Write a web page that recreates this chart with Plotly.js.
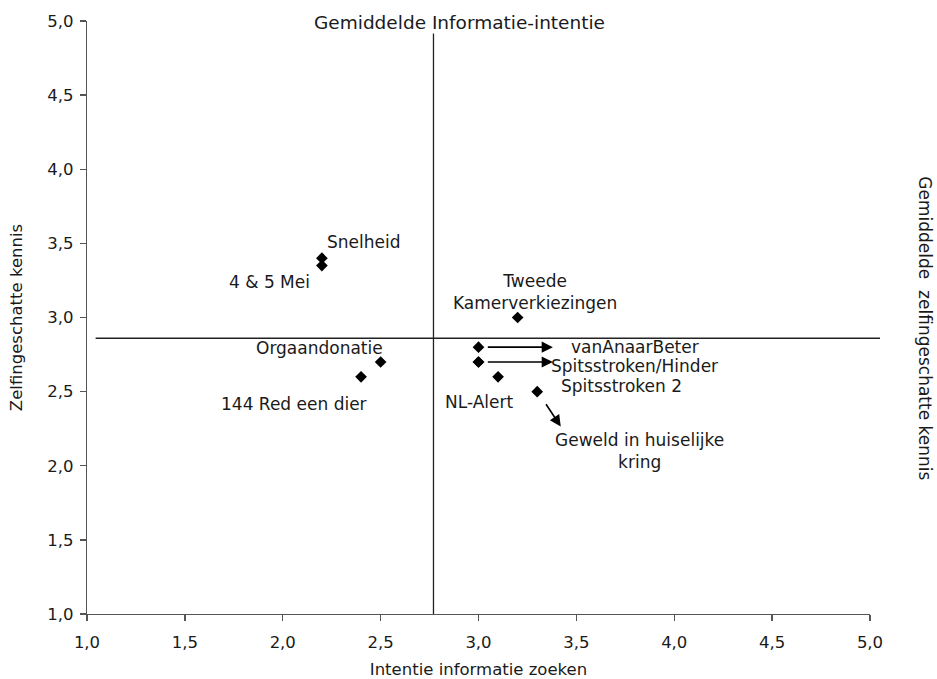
<!DOCTYPE html>
<html>
<head>
<meta charset="utf-8">
<script src="https://cdn.plot.ly/plotly-3.0.1.min.js"></script>
<style>
html,body{margin:0;padding:0;background:#fff;}
#chart{width:937px;height:679px;}
</style>
</head>
<body>
<div id="chart"></div>
<script>
// ---- data ----
const labels = ['Snelheid', '4 & 5 Mei', 'Tweede<br>Kamerverkiezingen', 'Orgaandonatie', '144 Red een dier',
                'vanAnaarBeter', 'Spitsstroken/Hinder', 'Spitsstroken 2', 'NL-Alert', 'Geweld in huiselijke<br>kring'];
const intentie = [2.2, 2.2, 3.2, 2.5, 2.4, 3.0, 3.0, 3.0, 3.1, 3.3];
const kennis   = [3.4, 3.35, 3.0, 2.7, 2.6, 2.8, 2.7, 2.7, 2.6, 2.5];
const meanIntentie = 2.77;
const meanKennis = 2.86;
const tickVals = [1.0, 1.5, 2.0, 2.5, 3.0, 3.5, 4.0, 4.5, 5.0];
const tickText = ['1,0', '1,5', '2,0', '2,5', '3,0', '3,5', '4,0', '4,5', '5,0'];

// ---- label placement (pixel offsets from each point) ----
const labelShift = [
  [42, 16], [-52, -16], [17, 26], [-61, 14], [-67, -27],
  [156, 0], [156, -4], [143, -24], [-19, -25], [102, -59]
];
const arrowFrom = [5, 6, 9];

const FONT = 'DejaVu Sans, Verdana, sans-serif';
const TXT = '#1a1a1a';

const trace = {
  type: 'scatter', mode: 'markers',
  x: intentie, y: kennis,
  marker: {symbol: 'diamond', size: 9, color: '#000'},
  hoverinfo: 'skip', showlegend: false
};

const annotations = labels.map((t, i) => ({
  x: intentie[i], y: kennis[i], xref: 'x', yref: 'y',
  text: t, showarrow: false, xanchor: 'center', yanchor: 'middle',
  xshift: labelShift[i][0], yshift: labelShift[i][1], borderpad: 0,
  font: {family: FONT, size: 17, color: TXT}
}));

// arrows pointing to the labels
const arrowEnds = {5: [3.38, 2.8], 6: [3.38, 2.7], 9: [3.42, 2.265]};
const arrowStarts = {5: [3.04, 2.8], 6: [3.04, 2.7], 9: [3.34, 2.425]};
arrowFrom.forEach(i => {
  annotations.push({
    xref: 'x', yref: 'y', axref: 'x', ayref: 'y',
    x: arrowEnds[i][0], y: arrowEnds[i][1],
    ax: arrowStarts[i][0], ay: arrowStarts[i][1],
    text: '', showarrow: true, arrowhead: 2, arrowsize: 1.4, arrowwidth: 1.6, arrowcolor: '#000'
  });
});

// top title at vertical mean line
annotations.push({
  x: meanIntentie, xref: 'x', y: 1, yref: 'paper',
  xanchor: 'center', yanchor: 'middle', xshift: 26, yshift: -1,
  text: 'Gemiddelde Informatie-intentie', showarrow: false,
  font: {family: FONT, size: 18.5, color: TXT}
});
// right title for horizontal mean line
annotations.push({
  x: 1.07, xref: 'paper', y: 0.482, yref: 'paper',
  xanchor: 'center', yanchor: 'middle', textangle: 90,
  text: 'Gemiddelde&nbsp;&nbsp;zelfingeschatte kennis', showarrow: false,
  font: {family: FONT, size: 17, color: TXT}
});

const layout = {
  width: 937, height: 679,
  margin: {l: 87.3, r: 67, t: 20.7, b: 65.3},
  paper_bgcolor: '#fff', plot_bgcolor: '#fff',
  font: {family: FONT, color: TXT, size: 16.5},
  xaxis: {
    range: [1, 5], tickvals: tickVals, ticktext: tickText,
    showgrid: false, zeroline: false, showline: true, linecolor: '#555', linewidth: 1.3,
    ticks: 'outside', ticklen: 6, tickcolor: '#555', tickwidth: 1.3, ticklabelstandoff: 7,
    tickfont: {family: FONT, size: 16.5, color: TXT},
    title: {text: 'Intentie informatie zoeken', font: {family: FONT, size: 16.5, color: TXT}, standoff: 16}
  },
  yaxis: {
    range: [1, 5], tickvals: tickVals, ticktext: tickText,
    showgrid: false, zeroline: false, showline: true, linecolor: '#555', linewidth: 1.3,
    ticks: 'outside', ticklen: 6, tickcolor: '#555', tickwidth: 1.3, ticklabelstandoff: 3,
    tickfont: {family: FONT, size: 16.5, color: TXT},
    title: {text: 'Zelfingeschatte kennis', font: {family: FONT, size: 16.5, color: TXT}, standoff: 20}
  },
  shapes: [
    {type: 'line', xref: 'x', yref: 'paper', x0: meanIntentie, x1: meanIntentie, y0: 0, y1: 0.979,
     line: {color: '#222', width: 1.3}},
    {type: 'line', xref: 'paper', yref: 'y', x0: 0.011, x1: 1.0128, y0: meanKennis, y1: meanKennis,
     line: {color: '#222', width: 1.3}}
  ],
  annotations: annotations
};

Plotly.newPlot('chart', [trace], layout, {displayModeBar: false, staticPlot: true});
</script>
</body>
</html>
